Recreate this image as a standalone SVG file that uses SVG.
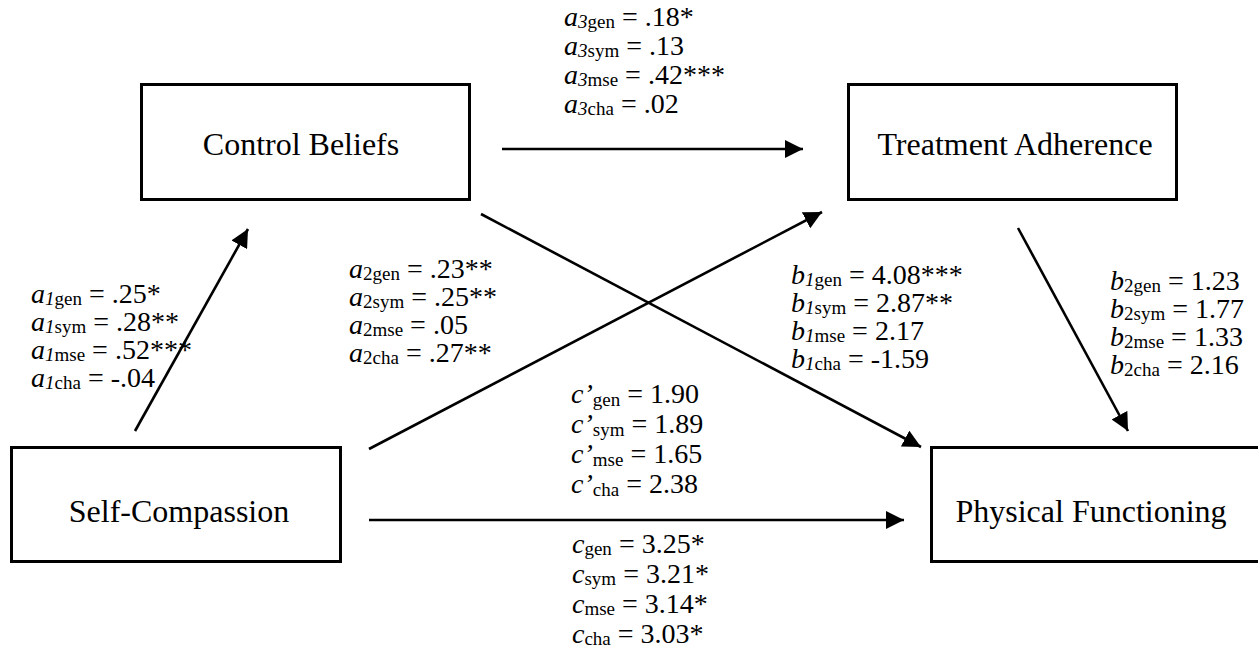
<svg xmlns="http://www.w3.org/2000/svg" width="1258" height="652" viewBox="0 0 1258 652" font-family="'Liberation Serif', 'Times New Roman', serif">
<style>
text{font-family:"Liberation Serif","Times New Roman",serif;fill:#000}
.node{font-size:32px;text-anchor:middle}
.lab{font-size:28px}
.i{font-style:italic}
.s{font-size:19px}
.box{fill:#fff;stroke:#000;stroke-width:3}
.con{stroke:#000;stroke-width:2.6;fill:none;marker-end:url(#ah)}
</style>
<defs>
<marker id="ah" markerUnits="userSpaceOnUse" markerWidth="18" markerHeight="18" refX="17" refY="8.5" orient="auto" viewBox="0 0 17 17">
<path d="M0,0 L17,8.5 L0,17 z" fill="#000"/>
</marker>
</defs>
<g id="connectors">
<line class="con" x1="502" y1="149" x2="803" y2="149"/>
<line class="con" x1="369" y1="520" x2="904" y2="520"/>
<line class="con" x1="135" y1="431" x2="248" y2="229"/>
<line class="con" x1="369" y1="449" x2="822" y2="212"/>
<line class="con" x1="481" y1="214" x2="921" y2="447"/>
<line class="con" x1="1018" y1="228" x2="1128" y2="431"/>
</g>
<g id="node-control-beliefs">
<rect class="box" x="141.5" y="84.5" width="328" height="115"/>
<text class="node" x="301" y="155">Control Beliefs</text>
</g>
<g id="node-treatment-adherence">
<rect class="box" x="848.5" y="84.5" width="328" height="115"/>
<text class="node" x="1015" y="155">Treatment Adherence</text>
</g>
<g id="node-self-compassion">
<rect class="box" x="11.5" y="447.5" width="329" height="114"/>
<text class="node" x="179" y="522">Self-Compassion</text>
</g>
<g id="node-physical-functioning">
<rect class="box" x="931.5" y="447.5" width="340" height="114"/>
<text class="node" x="1091" y="522">Physical Functioning</text>
</g>
<g id="labels-a3" class="lab">
<text x="564" y="26"><tspan class="i">a</tspan><tspan class="s i" dy="2">3</tspan><tspan class="s">gen</tspan><tspan dy="-2"> = .18*</tspan></text>
<text x="564" y="55"><tspan class="i">a</tspan><tspan class="s i" dy="2">3</tspan><tspan class="s">sym</tspan><tspan dy="-2"> = .13</tspan></text>
<text x="564" y="84"><tspan class="i">a</tspan><tspan class="s i" dy="2">3</tspan><tspan class="s">mse</tspan><tspan dy="-2"> = .42***</tspan></text>
<text x="564" y="113"><tspan class="i">a</tspan><tspan class="s i" dy="2">3</tspan><tspan class="s">cha</tspan><tspan dy="-2"> = .02</tspan></text>
</g>
<g id="labels-a1" class="lab">
<text x="31" y="303"><tspan class="i">a</tspan><tspan class="s i" dy="2">1</tspan><tspan class="s">gen</tspan><tspan dy="-2"> = .25*</tspan></text>
<text x="31" y="331"><tspan class="i">a</tspan><tspan class="s i" dy="2">1</tspan><tspan class="s">sym</tspan><tspan dy="-2"> = .28**</tspan></text>
<text x="31" y="359"><tspan class="i">a</tspan><tspan class="s i" dy="2">1</tspan><tspan class="s">mse</tspan><tspan dy="-2"> = .52***</tspan></text>
<text x="31" y="387"><tspan class="i">a</tspan><tspan class="s i" dy="2">1</tspan><tspan class="s">cha</tspan><tspan dy="-2"> = -.04</tspan></text>
</g>
<g id="labels-a2" class="lab">
<text x="349" y="278"><tspan class="i">a</tspan><tspan class="s" dy="2">2gen</tspan><tspan dy="-2"> = .23**</tspan></text>
<text x="349" y="306"><tspan class="i">a</tspan><tspan class="s" dy="2">2sym</tspan><tspan dy="-2"> = .25**</tspan></text>
<text x="349" y="334"><tspan class="i">a</tspan><tspan class="s" dy="2">2mse</tspan><tspan dy="-2"> = .05</tspan></text>
<text x="349" y="362"><tspan class="i">a</tspan><tspan class="s" dy="2">2cha</tspan><tspan dy="-2"> = .27**</tspan></text>
</g>
<g id="labels-b1" class="lab">
<text x="791" y="284"><tspan class="i">b</tspan><tspan class="s i" dy="2">1</tspan><tspan class="s">gen</tspan><tspan dy="-2"> = 4.08***</tspan></text>
<text x="791" y="312"><tspan class="i">b</tspan><tspan class="s i" dy="2">1</tspan><tspan class="s">sym</tspan><tspan dy="-2"> = 2.87**</tspan></text>
<text x="791" y="340"><tspan class="i">b</tspan><tspan class="s i" dy="2">1</tspan><tspan class="s">mse</tspan><tspan dy="-2"> = 2.17</tspan></text>
<text x="791" y="368"><tspan class="i">b</tspan><tspan class="s i" dy="2">1</tspan><tspan class="s">cha</tspan><tspan dy="-2"> = -1.59</tspan></text>
</g>
<g id="labels-b2" class="lab">
<text x="1110" y="290"><tspan class="i">b</tspan><tspan class="s" dy="2">2gen</tspan><tspan dy="-2"> = 1.23</tspan></text>
<text x="1110" y="318"><tspan class="i">b</tspan><tspan class="s" dy="2">2sym</tspan><tspan dy="-2"> = 1.77</tspan></text>
<text x="1110" y="346"><tspan class="i">b</tspan><tspan class="s" dy="2">2mse</tspan><tspan dy="-2"> = 1.33</tspan></text>
<text x="1110" y="374"><tspan class="i">b</tspan><tspan class="s" dy="2">2cha</tspan><tspan dy="-2"> = 2.16</tspan></text>
</g>
<g id="labels-cprime" class="lab">
<text x="571" y="403"><tspan class="i">c’</tspan><tspan class="s" dy="3">gen</tspan><tspan dy="-3"> = 1.90</tspan></text>
<text x="571" y="433"><tspan class="i">c’</tspan><tspan class="s" dy="3">sym</tspan><tspan dy="-3"> = 1.89</tspan></text>
<text x="571" y="463"><tspan class="i">c’</tspan><tspan class="s" dy="3">mse</tspan><tspan dy="-3"> = 1.65</tspan></text>
<text x="571" y="493"><tspan class="i">c’</tspan><tspan class="s" dy="3">cha</tspan><tspan dy="-3"> = 2.38</tspan></text>
</g>
<g id="labels-c" class="lab">
<text x="572" y="553"><tspan class="i">c</tspan><tspan class="s" dy="2">gen</tspan><tspan dy="-2"> = 3.25*</tspan></text>
<text x="572" y="583"><tspan class="i">c</tspan><tspan class="s" dy="2">sym</tspan><tspan dy="-2"> = 3.21*</tspan></text>
<text x="572" y="613"><tspan class="i">c</tspan><tspan class="s" dy="2">mse</tspan><tspan dy="-2"> = 3.14*</tspan></text>
<text x="572" y="643"><tspan class="i">c</tspan><tspan class="s" dy="2">cha</tspan><tspan dy="-2"> = 3.03*</tspan></text>
</g>
</svg>
